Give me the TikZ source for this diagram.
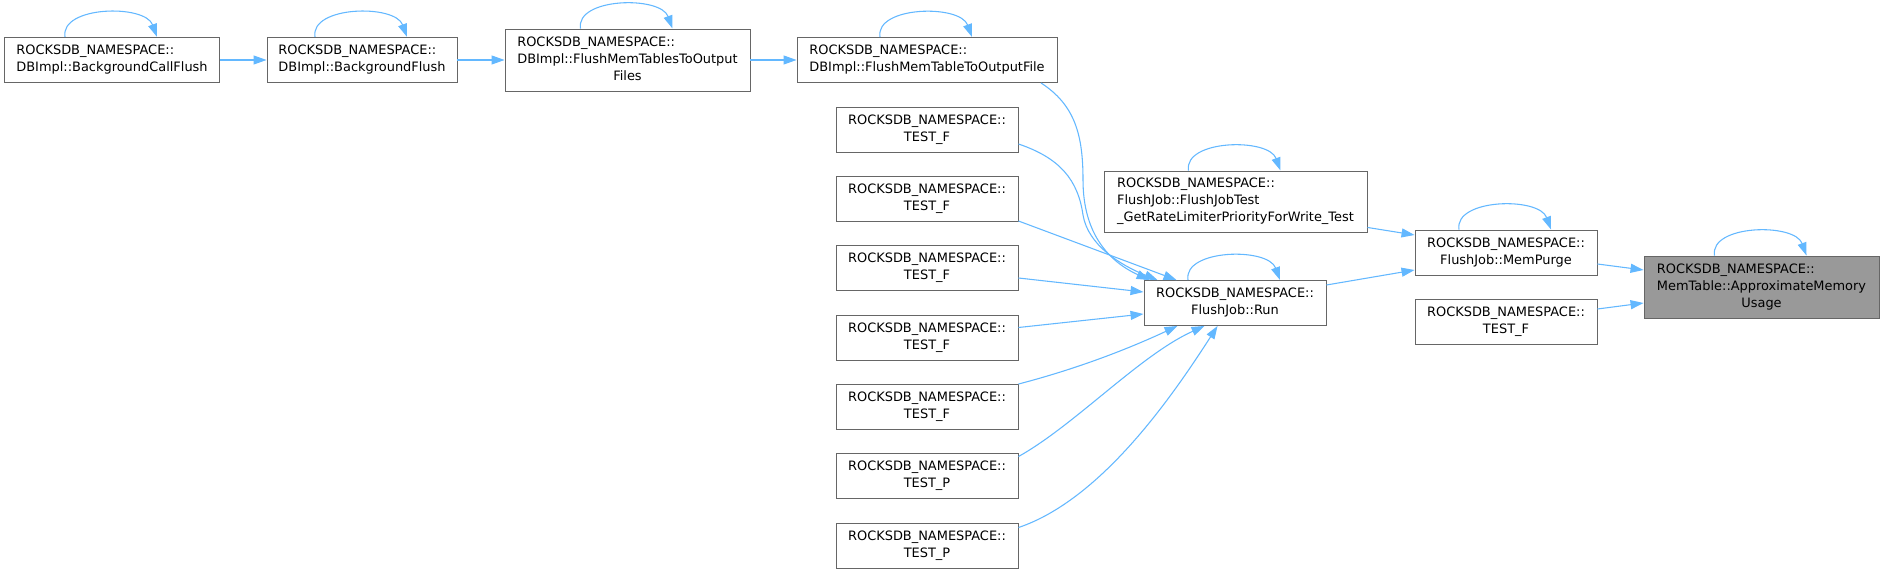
\documentclass[tikz,border=0pt]{standalone}
\usepackage{fontspec}
\setmainfont{DejaVu Sans}
\usetikzlibrary{arrows.meta,calc}
\definecolor{edgeblue}{HTML}{63B8FF}
\definecolor{boxgray}{HTML}{666666}
\definecolor{fillgray}{HTML}{999999}
\newcommand\boxtxt[2]{\begin{tabular}{@{}l@{}}#1\\\multicolumn{1}{@{}c@{}}{#2}\end{tabular}}
\newcommand\selfloop[1]{\draw[edge] ($(#1.north)+(-47,0)$) .. controls ($(#1.north)+(-52,-31)$) and ($(#1.north)+(33,-33)$) .. ($(#1.north)+(45,0)$);}
\begin{document}
\begin{tikzpicture}[x=0.75pt,y=-0.75pt,
  fn/.style 2 args={draw=boxgray, line width=0.7pt, fill=white, inner sep=0pt,
     font=\fontsize{9.7}{12.75}\selectfont, minimum width=#1, minimum height=#2},
  edge/.style={draw=edgeblue, line width=0.8pt, -{Triangle[length=9.75pt,width=6.75pt]}}]
\fill[white] (0,0) rectangle (1884,573);
\useasboundingbox (0,0) rectangle (1884,573);

\node[fn={161.25pt}{34pt}] (bcf) at (112,60) {\boxtxt{ROCKSDB\_NAMESPACE::}{DBImpl::BackgroundCallFlush}};
\node[fn={142.5pt}{34pt}] (bf) at (362,60) {\boxtxt{ROCKSDB\_NAMESPACE::}{DBImpl::BackgroundFlush}};
\node[fn={183.75pt}{46.5pt}] (fmts) at (627.5,60) {\boxtxt{ROCKSDB\_NAMESPACE::\\DBImpl::FlushMemTablesToOutput}{Files}};
\node[fn={195pt}{33.75pt}] (fmtof) at (927,60) {\boxtxt{ROCKSDB\_NAMESPACE::}{DBImpl::FlushMemTableToOutputFile}};

\node[fn={136.5pt}{33.75pt}] (t1) at (927,129.5) {\boxtxt{ROCKSDB\_NAMESPACE::}{TEST\_F}};
\node[fn={136.5pt}{33.75pt}] (t2) at (927,199) {\boxtxt{ROCKSDB\_NAMESPACE::}{TEST\_F}};
\node[fn={136.5pt}{33.75pt}] (t3) at (927,268) {\boxtxt{ROCKSDB\_NAMESPACE::}{TEST\_F}};
\node[fn={136.5pt}{33.75pt}] (t4) at (927,337.5) {\boxtxt{ROCKSDB\_NAMESPACE::}{TEST\_F}};
\node[fn={136.5pt}{33.75pt}] (t5) at (927,406.5) {\boxtxt{ROCKSDB\_NAMESPACE::}{TEST\_F}};
\node[fn={136.5pt}{33.75pt}] (t6) at (927,476) {\boxtxt{ROCKSDB\_NAMESPACE::}{TEST\_P}};
\node[fn={136.5pt}{33.75pt}] (t7) at (927,545.5) {\boxtxt{ROCKSDB\_NAMESPACE::}{TEST\_P}};

\node[fn={197.25pt}{45.75pt}] (fjt) at (1235.5,201.5) {\boxtxt{ROCKSDB\_NAMESPACE::\\FlushJob::FlushJobTest}{\_GetRateLimiterPriorityForWrite\_Test}};
\node[fn={136.5pt}{33.75pt}] (run) at (1235,303) {\boxtxt{ROCKSDB\_NAMESPACE::}{FlushJob::Run}};
\node[fn={136.5pt}{33.75pt}] (mp) at (1506,252.5) {\boxtxt{ROCKSDB\_NAMESPACE::}{FlushJob::MemPurge}};
\node[fn={136.5pt}{33.75pt}] (tr) at (1506,321.5) {\boxtxt{ROCKSDB\_NAMESPACE::}{TEST\_F}};
\node[fn={176.25pt}{46.5pt}, fill=fillgray] (amu) at (1761.5,287) {\boxtxt{ROCKSDB\_NAMESPACE::\\MemTable::ApproximateMemory}{Usage}};

% straight chain
\draw[edge] (bcf.east) -- (bf.west);
\draw[edge] (bf.east) -- (fmts.west);
\draw[edge] (fmts.east) -- (fmtof.west);

% into Run
\draw[edge] ($(fmtof.south)+(114,0)$) .. controls (1075,105) and (1083,135) .. (1083,180)
   .. controls (1083,235) and (1110,262) .. ($(run.north west)+(6,0)$);
\draw[edge] ($(t1.east)+(0,14.5)$) .. controls (1060,158) and (1078,180) .. (1083,215)
   .. controls (1088,245) and (1120,265) .. ($(run.north west)+(14,0)$);
\draw[edge] ($(t2.east)+(0,22)$) -- ($(run.north west)+(33,0)$);
\draw[edge] ($(t3.east)+(0,10)$) -- ($(run.west)+(0,-11)$);
\draw[edge] ($(t4.east)+(0,-10)$) -- ($(run.west)+(0,11)$);
\draw[edge] ($(t5.north east)+(0,0.5)$) .. controls (1080,368) and (1130,348) .. ($(run.south west)+(34,0)$);
\draw[edge] ($(t6.north east)+(0,3.5)$) .. controls (1075,425) and (1140,355) .. ($(run.south west)+(61,0)$);
\draw[edge] ($(t7.north east)+(0,5)$) .. controls (1100,500) and (1170,400) .. ($(run.south west)+(74,0)$);

% right part
\draw[edge] ($(fjt.south east)+(0,-5)$) -- ($(mp.west)+(0,-17.5)$);
\draw[edge] ($(run.east)+(0,-18)$) -- ($(mp.west)+(0,17.5)$);
\draw[edge] ($(mp.east)+(0,11.5)$) -- ($(amu.west)+(0,-17)$);
\draw[edge] ($(tr.east)+(0,-12.5)$) -- ($(amu.west)+(0,16)$);

% self loops
\selfloop{bcf}
\selfloop{bf}
\selfloop{fmts}
\selfloop{fmtof}
\selfloop{fjt}
\selfloop{run}
\selfloop{mp}
\selfloop{amu}
\end{tikzpicture}
\end{document}
